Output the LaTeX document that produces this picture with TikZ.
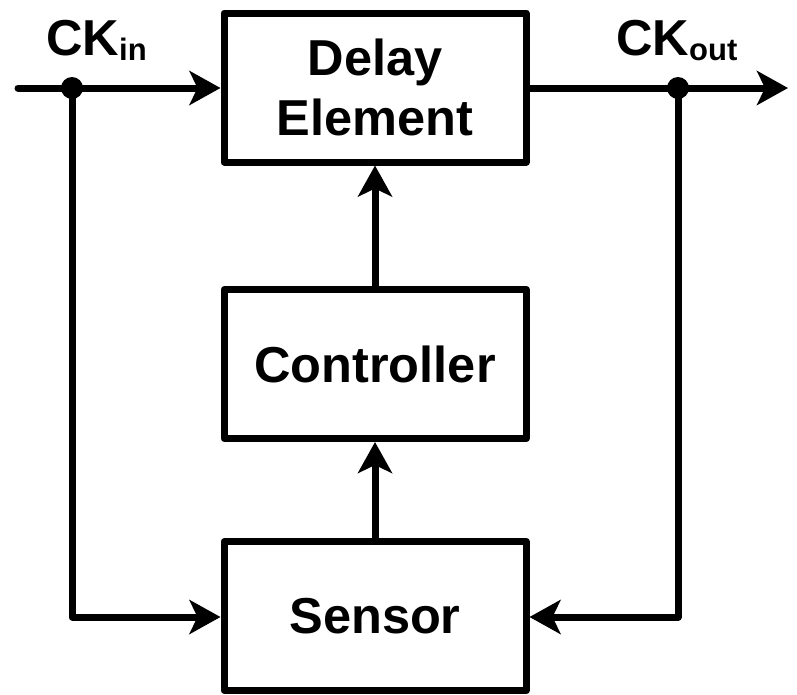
\documentclass[tikz,border=0pt]{standalone}
\usepackage{fontspec}
\setmainfont{Liberation Sans}
\usetikzlibrary{arrows.meta}
\begin{document}
\begin{tikzpicture}[x=1pt,y=-1pt,
  blk/.style={draw, line width=7pt, line join=round, minimum width=302pt, minimum height=149pt, inner sep=0pt, align=center, font=\bfseries\fontsize{50.5}{60}\selectfont},
  wire/.style={line width=7pt, line join=round, line cap=round},
  arr/.style={wire, -{Stealth[length=31pt, width=34pt, inset=8pt]}},
  lbl/.style={inner sep=0pt, anchor=base west, font=\bfseries\fontsize{50.5}{60}\selectfont},
  dotc/.style={circle, fill=black, inner sep=0pt, minimum size=22pt}]
\useasboundingbox (0,0) rectangle (797,694);
\node[blk] (delay) at (375,87.5) {Delay\\Element};
\node[blk] (ctrl) at (375,364) {Controller};
\node[blk] (sens) at (375,616) {Sensor};
\coordinate (inS) at (18,88);
\coordinate (outE) at (788,88);
\node[dotc] (din) at (72,88) {};
\node[dotc] (dout) at (678,88) {};
\coordinate (lc) at (72,617);
\coordinate (rc) at (678,617);
\node[lbl] (ckin) at (46,55) {CK{\fontsize{31}{31}\selectfont\raisebox{-5pt}{in}}};
\node[lbl] (ckout) at (616,55) {CK{\fontsize{31}{31}\selectfont\raisebox{-5pt}{out}}};
\draw[arr] (inS) -- (delay.west |- inS);
\draw[arr] (delay.east |- outE) -- (outE);
\draw[arr] (din.center) -- (lc) -- (sens.west |- lc);
\draw[arr] (dout.center) -- (rc) -- (sens.east |- rc);
\draw[arr] (ctrl.north) -- (delay.south);
\draw[arr] (sens.north) -- (ctrl.south);
\end{tikzpicture}
\end{document}
